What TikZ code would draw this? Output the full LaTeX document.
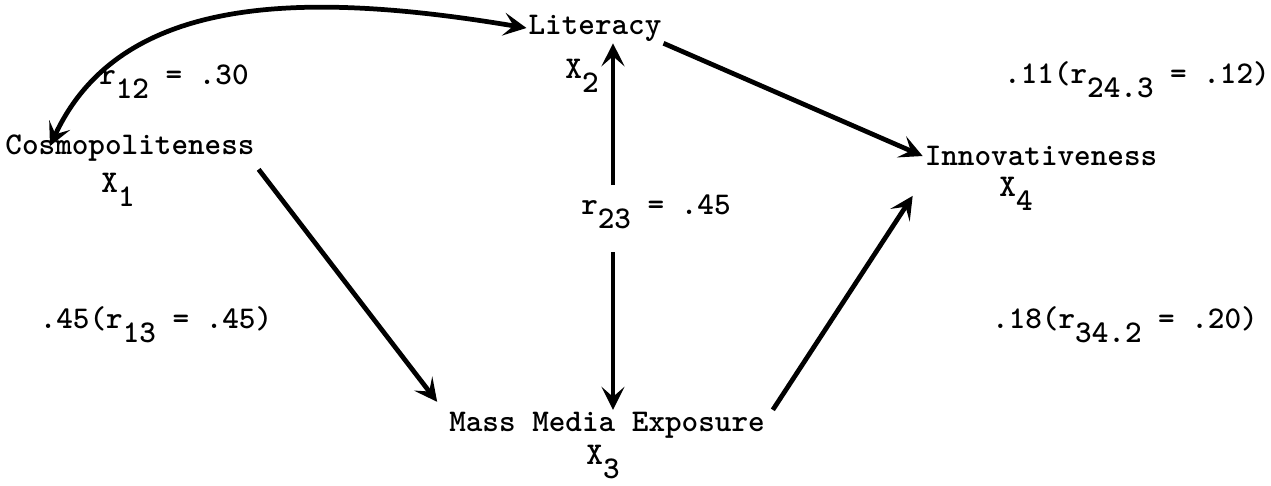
\documentclass[tikz,border=0pt]{standalone}
\usepackage{fontspec}
\usepackage{tikz}
\usetikzlibrary{arrows.meta}
\usetikzlibrary{positioning}

\newcommand{\lowsub}[1]{\raisebox{-0.45em}{#1}}

\begin{document}
\begin{tikzpicture}[x=0.02cm, y=-0.02cm,
        every node/.style={font=\ttfamily\bfseries\fontsize{18}{21}\selectfont, inner sep=1pt},
        path/.style={line width=2.7pt, -{Stealth[length=4.6mm, width=4.6mm, inset=2mm]}},
        corr/.style={line width=2.7pt, {Stealth[length=4.6mm, width=4.6mm, inset=2mm]}-{Stealth[length=4.6mm, width=4.6mm, inset=2mm]}}]

        \useasboundingbox (0,0) rectangle (1271,485);

        % variables
        \node (lit) at (595,28) {Literacy};
        \node (x2) at (582,76) {X\lowsub{2}};
        \node (cos) at (130,148) {Cosmopoliteness};
        \node (x1) at (118,190) {X\lowsub{1}};
        \node (inn) at (1041,156) {Innovativeness};
        \node (x4) at (1016,194) {X\lowsub{4}};
        \node (mme) at (607,425) {Mass Media Exposure};
        \node (x3) at (603,462) {X\lowsub{3}};

        % coefficients
        \node (r12) at (174,82) {r\lowsub{12} = .30};
        \node (r23) at (656,212) {r\lowsub{23} = .45};
        \node (r24) at (1137,80) {.11(r\lowsub{24.3} = .12)};
        \node (r13) at (156,325) {.45(r\lowsub{13} = .45)};
        \node (r34) at (1125,325) {.18(r\lowsub{34.2} = .20)};

        % ends of the lines
        \coordinate (cosTop) at (50,146);
        \coordinate (r23Top) at (613,185);
        \coordinate (r23Bot) at (613,252);

        \draw[corr] (lit.west) .. controls (300,-10) and (120,-5) .. (cosTop);
        \draw[path] (lit.south east) -- (inn.west);
        \draw[path] ([shift={(2,6)}]cos.south east) -- ([shift={(-10,-8)}]mme.north west);
        \draw[path] ([shift={(6,0)}]mme.north east) -- ([shift={(-10,28)}]inn.south west);
        \draw[path] (r23Top) -- (lit.south -| r23Top);
        \draw[path] (r23Bot) -- (mme.north -| r23Bot);

\end{tikzpicture}
\end{document}
